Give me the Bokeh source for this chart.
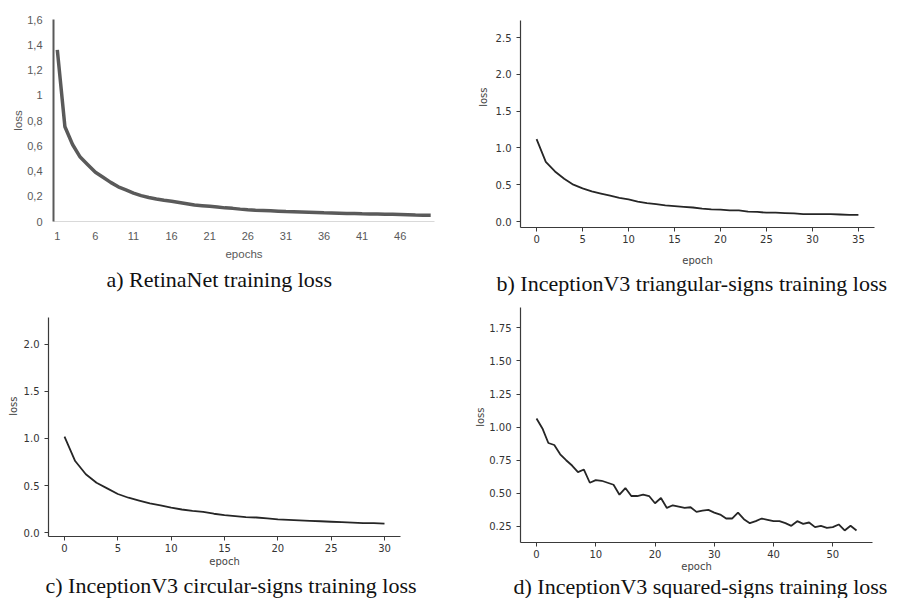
from bokeh.plotting import figure
from bokeh.layouts import column, row
from bokeh.models import Range1d, FixedTicker, Title
from bokeh.embed import file_html
from bokeh.resources import INLINE

# ---------------- data ----------------
retinanet_epochs = list(range(1, 51))
retinanet_loss = [1.36, 0.75, 0.61, 0.51, 0.45, 0.39, 0.35, 0.31, 0.275, 0.25,
                  0.225, 0.205, 0.19, 0.178, 0.168, 0.16, 0.15, 0.14, 0.13, 0.125,
                  0.12, 0.115, 0.108, 0.104, 0.098, 0.093, 0.09, 0.088, 0.085, 0.082,
                  0.079, 0.077, 0.075, 0.073, 0.071, 0.069, 0.068, 0.066, 0.064, 0.063,
                  0.061, 0.06, 0.059, 0.058, 0.057, 0.055, 0.053, 0.051, 0.05, 0.05]

tri_epochs = list(range(0, 36))
tri_loss = [1.12, 0.81, 0.68, 0.58, 0.5, 0.45, 0.41, 0.38, 0.35, 0.32,
            0.3, 0.27, 0.25, 0.235, 0.22, 0.21, 0.2, 0.19, 0.175, 0.165,
            0.16, 0.15, 0.15, 0.135, 0.13, 0.12, 0.12, 0.115, 0.11, 0.1,
            0.1, 0.1, 0.1, 0.095, 0.09, 0.09]

circ_epochs = list(range(0, 31))
circ_loss = [1.02, 0.76, 0.62, 0.53, 0.47, 0.41, 0.37, 0.34, 0.31, 0.29,
             0.265, 0.245, 0.23, 0.22, 0.2, 0.185, 0.175, 0.165, 0.16, 0.15,
             0.14, 0.135, 0.13, 0.125, 0.12, 0.115, 0.11, 0.105, 0.1, 0.1, 0.095]

sq_epochs = list(range(0, 55))
sq_loss = [1.065, 0.99, 0.88, 0.865, 0.795, 0.75, 0.71, 0.66, 0.68, 0.58,
           0.60, 0.595, 0.58, 0.565, 0.49, 0.54, 0.48, 0.48, 0.49, 0.48,
           0.425, 0.465, 0.39, 0.41, 0.40, 0.39, 0.395, 0.36, 0.37, 0.375,
           0.355, 0.34, 0.31, 0.31, 0.355, 0.305, 0.275, 0.29, 0.31, 0.30,
           0.29, 0.29, 0.275, 0.255, 0.29, 0.27, 0.28, 0.245, 0.255, 0.24,
           0.245, 0.265, 0.22, 0.255, 0.22]

retina_xticks = [1, 6, 11, 16, 21, 26, 31, 36, 41, 46]
retina_yticks = [0, 0.2, 0.4, 0.6, 0.8, 1, 1.2, 1.4, 1.6]
retina_ylabels = ["0", "0,2", "0,4", "0,6", "0,8", "1", "1,2", "1,4", "1,6"]
tri_xticks = [0, 5, 10, 15, 20, 25, 30, 35]
tri_yticks = [0.0, 0.5, 1.0, 1.5, 2.0, 2.5]
circ_xticks = [0, 5, 10, 15, 20, 25, 30]
circ_yticks = [0.0, 0.5, 1.0, 1.5, 2.0]
sq_xticks = [0, 10, 20, 30, 40, 50]
sq_yticks = [0.25, 0.5, 0.75, 1.0, 1.25, 1.5, 1.75]
sq_ylabels = ["0.25", "0.50", "0.75", "1.00", "1.25", "1.50", "1.75"]

captions = ["a) RetinaNet training loss",
            "b) InceptionV3 triangular-signs training loss",
            "c) InceptionV3 circular-signs training loss",
            "d) InceptionV3 squared-signs training loss"]

W, H = 445, 299
CAP_FONT = "Liberation Serif"
CAP_SIZE = "22px"


def base_fig(xr, yr, left, right, top, bottom):
    p = figure(width=W, height=H, x_range=Range1d(*xr), y_range=Range1d(*yr),
               output_backend="svg", toolbar_location=None, title=None,
               min_border_left=left, min_border_right=right,
               min_border_top=top, min_border_bottom=bottom)
    if "frame_align" in p.properties():
        p.frame_align = False
    p.outline_line_color = None
    p.xgrid.visible = False
    p.ygrid.visible = False
    p.background_fill_color = "white"
    p.border_fill_color = "white"
    return p


def add_caption(p, text, offset, standoff):
    p.add_layout(Title(text=text, align="left", offset=offset, standoff=standoff,
                       text_font=CAP_FONT, text_font_size=CAP_SIZE,
                       text_font_style="normal", text_color="#111111",
                       vertical_align="bottom"), "below")


def add_ylabel(p, text, offset, standoff):
    # y-axis name placed beside the axis, shifted along it like the original
    p.add_layout(Title(text=text, align="right", offset=offset, standoff=standoff,
                       text_font="DejaVu Sans", text_font_size="10px",
                       text_font_style="normal", text_color="#444444",
                       vertical_align="bottom"), "left")


def mpl_style(p, xticks, yticks):
    for ax in (p.xaxis, p.yaxis):
        ax.axis_line_color = "#3a3a3a"
        ax.axis_line_width = 1.2
        ax.major_tick_line_color = "#3a3a3a"
        ax.major_tick_out = 4
        ax.major_tick_in = 0
        ax.minor_tick_line_color = None
        ax.major_label_text_font = "DejaVu Sans"
        ax.major_label_text_font_size = "10px"
        ax.major_label_text_color = "#333333"
        ax.axis_label_text_font = "DejaVu Sans"
        ax.axis_label_text_font_size = "10px"
        ax.axis_label_text_font_style = "normal"
        ax.axis_label_text_color = "#444444"
    p.xaxis.ticker = FixedTicker(ticks=xticks)
    p.yaxis.ticker = FixedTicker(ticks=yticks)
    p.xaxis.major_label_standoff = 3
    p.yaxis.major_label_standoff = 5
    p.xaxis.axis_label = "epoch"


# ---------------- a) RetinaNet (Excel style) ----------------
pa = base_fig((0.5, 50.5), (0, 1.6), 53, 11, 19, 78)
pa.line(retinanet_epochs, retinanet_loss, line_color="#5a5a5a", line_width=3.5)
pa.xaxis.ticker = FixedTicker(ticks=retina_xticks)
pa.yaxis.ticker = FixedTicker(ticks=retina_yticks)
pa.yaxis.major_label_overrides = {t: l for t, l in zip(retina_yticks, retina_ylabels)}
for ax in (pa.xaxis, pa.yaxis):
    ax.major_tick_line_color = None
    ax.minor_tick_line_color = None
    ax.major_label_text_font = "Liberation Sans"
    ax.major_label_text_font_size = "11px"
    ax.major_label_text_color = "#595959"
    ax.axis_label_text_font = "Liberation Sans"
    ax.axis_label_text_font_size = "11.5px"
    ax.axis_label_text_font_style = "normal"
    ax.axis_label_text_color = "#595959"
pa.yaxis.axis_line_color = "#595959"
pa.yaxis.axis_line_width = 2
pa.xaxis.axis_line_color = "#d9d9d9"
pa.xaxis.axis_line_width = 1
pa.xaxis.major_label_standoff = 4
pa.yaxis.major_label_standoff = 5
pa.xaxis.axis_label = "epochs"
pa.yaxis.axis_label = "loss"
pa.xaxis.axis_label_standoff = 5
pa.yaxis.axis_label_standoff = 0
add_caption(pa, captions[0], 53, 4)

# ---------------- b) triangular ----------------
pb = base_fig((-1.75, 36.75), (-0.0815, 2.731), 75, 16, 20, 72)
pb.line(tri_epochs, tri_loss, line_color="#262626", line_width=1.8)
mpl_style(pb, tri_xticks, tri_yticks)
pb.xaxis.axis_label_standoff = 9
pb.yaxis.major_label_overrides = {0.0: "0.0", 0.5: "0.5", 1.0: "1.0", 1.5: "1.5", 2.0: "2.0", 2.5: "2.5"}
add_ylabel(pb, "loss", 67, 8)
add_caption(pb, captions[1], -24, 0)

# ---------------- c) circular ----------------
pc = base_fig((-1.5, 31.5), (-0.042, 2.286), 48, 45, 18, 61)
pc.line(circ_epochs, circ_loss, line_color="#262626", line_width=1.8)
mpl_style(pc, circ_xticks, circ_yticks)
pc.xaxis.axis_label_standoff = 1
pc.yaxis.major_label_overrides = {0.0: "0.0", 0.5: "0.5", 1.0: "1.0", 1.5: "1.5", 2.0: "2.0"}
add_ylabel(pc, "loss", 79, 4)
add_caption(pc, captions[2], -3, 2)

# ---------------- d) squared ----------------
pd_ = base_fig((-2.7, 56.7), (0.129, 1.903), 75, 18, 8, 56)
pd_.line(sq_epochs, sq_loss, line_color="#262626", line_width=1.8)
mpl_style(pd_, sq_xticks, sq_yticks)
pd_.xaxis.axis_label_standoff = 0
pd_.yaxis.major_label_overrides = {t: l for t, l in zip(sq_yticks, sq_ylabels)}
add_ylabel(pd_, "loss", 100, 2)
add_caption(pd_, captions[3], -7, -6)

layout = column(row(pa, pb), row(pc, pd_))
open("out.html", "w").write(file_html(layout, INLINE))
